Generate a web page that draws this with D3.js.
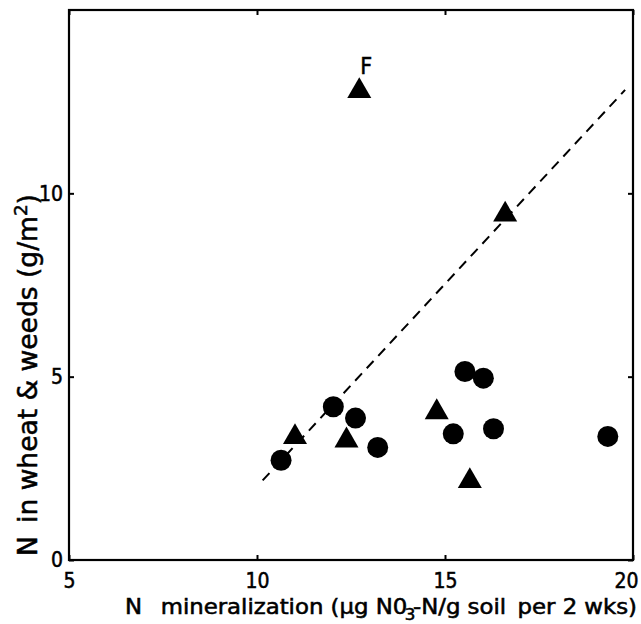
<!DOCTYPE html>
<html><head><meta charset="utf-8">
<script src="https://cdn.jsdelivr.net/npm/d3@7"></script>
<style>body{margin:0;background:#fff}svg{display:block}text{font-family:"DejaVu Sans Condensed","DejaVu Sans",sans-serif;fill:#000;stroke:#000;stroke-width:0.5}</style>
</head><body><svg id="c" width="641" height="624"></svg>
<script>
// Data
const circleX = [10.64, 12.03, 12.62, 13.21, 15.22, 15.53, 16.02, 16.29, 19.33];
const circleY = [2.72, 4.18, 3.87, 3.07, 3.44, 5.14, 4.96, 3.58, 3.37];
const triX = [11.01, 12.38, 14.78, 15.66, 12.72, 16.60];
const triY = [3.35, 3.26, 4.03, 2.15, 12.79, 9.42];
const triLabels = ["", "", "", "", "F", ""];
const lineX = [10.15, 19.79];
const lineY = [2.17, 12.82];
const xTicks = [5, 10, 15, 20];
const yTicks = [0, 5, 10];

const svg = d3.select("#c");
const m = {l:69, r:633, t:10, b:560};
const x = d3.scaleLinear().domain([5,20]).range([m.l, m.r]);
const y = d3.scaleLinear().domain([0,15]).range([m.b, m.t]);

// frame
svg.append("rect").attr("x", m.l).attr("y", m.t).attr("width", m.r-m.l).attr("height", m.b-m.t)
  .attr("fill","none").attr("stroke","#000").attr("stroke-width",2.2);

// axes with inward ticks
const ax = (g, axis) => { g.call(axis); g.select(".domain").remove(); g.selectAll("line").attr("stroke","#000").attr("stroke-width",2); };
const xb = svg.append("g").attr("transform",`translate(0,${m.b})`)
  .call(g=>ax(g, d3.axisBottom(x).tickValues(xTicks).tickSize(-5).tickPadding(13)));
xb.selectAll("text").attr("font-size",21).attr("dy","0.71em")
  .attr("dx",d=>d===20?-7:0);
svg.append("g").attr("transform",`translate(0,${m.t})`)
  .call(g=>ax(g, d3.axisTop(x).tickValues(xTicks).tickSize(-5).tickFormat("")));
svg.append("g").attr("transform",`translate(${m.l},0)`)
  .call(g=>ax(g, d3.axisLeft(y).tickValues(yTicks).tickSize(-5).tickPadding(6)))
  .selectAll("text").attr("font-size",21);
svg.append("g").attr("transform",`translate(${m.r},0)`)
  .call(g=>ax(g, d3.axisRight(y).tickValues(yTicks).tickSize(-5).tickFormat("")));
svg.selectAll(".tick text").attr("font-family",'"DejaVu Sans Condensed",sans-serif').attr("fill","#000");

// dashed line
svg.append("line").attr("x1",x(lineX[0])).attr("y1",y(lineY[0])).attr("x2",x(lineX[1])).attr("y2",y(lineY[1]))
  .attr("stroke","#000").attr("stroke-width",2).attr("stroke-dasharray","10,7");

// circles
svg.append("g").selectAll("circle").data(circleX.map((d,i)=>[d,circleY[i]])).join("circle")
  .attr("cx",d=>x(d[0])).attr("cy",d=>y(d[1])).attr("r",10.5).attr("fill","#000");

// triangles
const tri = d3.symbol().type(d3.symbolTriangle).size(250);
const td = triX.map((d,i)=>[d,triY[i],triLabels[i]]);
svg.append("g").selectAll("path").data(td).join("path")
  .attr("transform",d=>`translate(${x(d[0])},${y(d[1])})`).attr("d",tri).attr("fill","#000");
svg.append("g").selectAll("text").data(td.filter(d=>d[2])).join("text")
  .attr("x",d=>x(d[0])+7).attr("y",d=>y(d[1])-17).attr("text-anchor","middle").attr("font-size",23).text(d=>d[2]);

// x label
const xl = svg.append("text").attr("x",125).attr("y",614).attr("font-size",20.5)
  .attr("textLength",512).attr("lengthAdjust","spacingAndGlyphs");
xl.append("tspan").text("N\u2002 mineralization (\u00b5g N0");
xl.append("tspan").attr("font-size",15).attr("dy",6).attr("dx",-2).text("3");
xl.append("tspan").attr("dy",-6).attr("dx",-2).text("-N/g soil\u2002per 2 wks)");

// y label
const yl = svg.append("text").attr("transform","translate(37,556) rotate(-90)").attr("font-size",26)
  .attr("textLength",362).attr("lengthAdjust","spacingAndGlyphs");
yl.append("tspan").text("N\u2002in wheat & weeds (g/m");
yl.append("tspan").attr("font-size",18).attr("dy",-10).text("2");
yl.append("tspan").attr("dy",10).text(")");
</script></body></html>
